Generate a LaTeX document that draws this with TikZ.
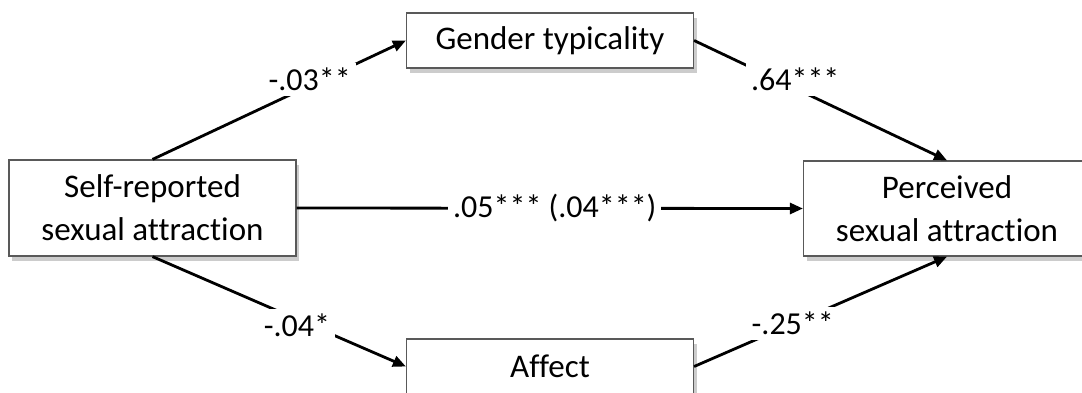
\documentclass[tikz,border=0pt]{standalone}
\usepackage{fontspec}
\setmainfont[Ligatures=NoCommon]{Carlito}
\usetikzlibrary{arrows.meta,shadows}
\begin{document}
\begin{tikzpicture}[x=1pt,y=-1pt,
  var/.style={draw=black!65,line width=1.2pt,fill=white,minimum width=287pt,inner sep=0pt,align=center,
    font=\fontsize{33}{43}\selectfont,
    drop shadow={shadow xshift=3pt,shadow yshift=-5pt,opacity=0.4}},
  path/.style={line width=2.8pt,-{Triangle[length=13pt,width=11pt]}},
  coef/.style={fill=white,inner sep=5pt,font=\fontsize{32}{38}\selectfont}]
\useasboundingbox (0,0) rectangle (1082,392);
\node (self) at (152.5,208) [var,minimum height=96pt] {Self-reported\\sexual attraction};
\node (gender) at (550,40.5) [var,minimum height=55pt] {Gender typicality};
\node (affect) at (550,366.5) [var,minimum height=55pt] {Affect};
\node (perc) at (947,208.5) [var,minimum height=95pt] {Perceived\\sexual attraction};
\draw [path] (self.north) -- (gender.west) node [coef,pos=0.62,yshift=6pt] {-.03**};
\draw [path] (gender.east) -- (perc.north) node [coef,pos=0.40,yshift=9pt] {.64***};
\draw [path] (self.east) -- (perc.west) node [coef,pos=0.51] {.05*** (.04***)};
\draw [path] (self.south) -- (affect.west) node [coef,pos=0.57,yshift=-6pt] {-.04*};
\draw [path] (affect.east) -- (perc.south) node [coef,pos=0.39] {-.25**};
\end{tikzpicture}
\end{document}
